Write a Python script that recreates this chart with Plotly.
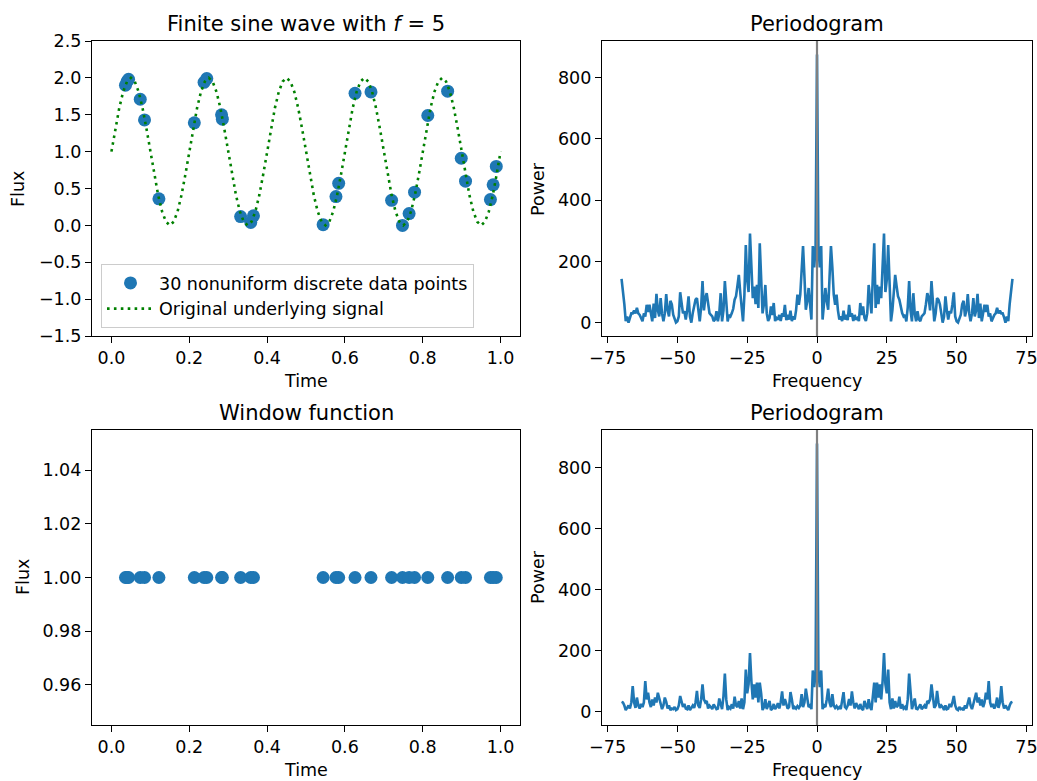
import numpy as np
import plotly.graph_objects as go

# ---------------- data ----------------
times = [0.036, 0.040, 0.044, 0.074, 0.085, 0.122, 0.213, 0.238, 0.245, 0.283,
         0.285, 0.332, 0.358, 0.365, 0.544, 0.577, 0.584, 0.626, 0.667, 0.720,
         0.748, 0.765, 0.779, 0.813, 0.864, 0.899, 0.910, 0.974, 0.981, 0.989]
flux = [1.90, 1.95, 1.98, 1.71, 1.43, 0.36, 1.39, 1.94, 1.99, 1.50,
        1.44, 0.12, 0.04, 0.13, 0.01, 0.39, 0.57, 1.79, 1.81, 0.34,
        0.00, 0.16, 0.45, 1.49, 1.82, 0.91, 0.60, 0.35, 0.55, 0.80]
window_flux = [1.0] * len(times)

signal_time = list(np.linspace(0, 1, 101))
signal_flux = [
    1.00, 1.31, 1.59, 1.81, 1.95, 2.00, 1.95, 1.81, 1.59, 1.31, 1.00, 0.69, 0.41, 0.19, 0.05, 0.00, 0.05, 0.19, 0.41, 0.69,
    1.00, 1.31, 1.59, 1.81, 1.95, 2.00, 1.95, 1.81, 1.59, 1.31, 1.00, 0.69, 0.41, 0.19, 0.05, 0.00, 0.05, 0.19, 0.41, 0.69,
    1.00, 1.31, 1.59, 1.81, 1.95, 2.00, 1.95, 1.81, 1.59, 1.31, 1.00, 0.69, 0.41, 0.19, 0.05, 0.00, 0.05, 0.19, 0.41, 0.69,
    1.00, 1.31, 1.59, 1.81, 1.95, 2.00, 1.95, 1.81, 1.59, 1.31, 1.00, 0.69, 0.41, 0.19, 0.05, 0.00, 0.05, 0.19, 0.41, 0.69,
    1.00, 1.31, 1.59, 1.81, 1.95, 2.00, 1.95, 1.81, 1.59, 1.31, 1.00, 0.69, 0.41, 0.19, 0.05, 0.00, 0.05, 0.19, 0.41, 0.69,
    1.00]

# periodogram, positive frequencies 0..70 step 0.5 (spectrum is symmetric)
freq_pos = [i * 0.5 for i in range(141)]
power_signal_pos = [
    876, 250, 180, 250, 10, 60, 113, 70, 42, 150,
    250, 180, 91, 58, 91, 40, 10, 20, 5, 39,
    10, 25, 8, 58, 20, 30, 5, 25, 10, 15,
    5, 64, 25, 53, 15, 5, 30, 123, 60, 30,
    150, 259, 48, 123, 60, 118, 80, 200, 291, 100,
    140, 253, 90, 4, 40, 100, 156, 120, 86, 75,
    45, 31, 20, 25, 4, 50, 136, 40, 4, 96,
    30, 4, 37, 10, 5, 20, 25, 31, 60, 96,
    80, 40, 136, 50, 4, 30, 80, 75, 60, 31,
    0, 20, 86, 40, 10, 37, 30, 60, 99, 20,
    4, 0, 15, 26, 60, 71, 20, 40, 93, 30,
    4, 30, 80, 20, 40, 94, 15, 62, 4, 30,
    58, 35, 58, 20, 30, 4, 15, 25, 30, 48,
    30, 39, 30, 30, 17, 0, 20, 5, 60, 110,
    143]
power_window_pos = [
    880, 130, 80, 135, 8, 20, 15, 40, 75, 30,
    15, 57, 20, 12, 18, 10, 15, 8, 40, 64,
    15, 10, 20, 41, 20, 66, 30, 10, 28, 15,
    8, 25, 10, 5, 35, 20, 8, 41, 15, 5,
    60, 95, 30, 95, 46, 89, 40, 100, 192, 90,
    60, 138, 30, 8, 43, 10, 35, 15, 20, 49,
    10, 24, 10, 15, 5, 40, 125, 50, 8, 25,
    43, 10, 8, 15, 24, 8, 15, 20, 10, 35,
    30, 40, 89, 40, 12, 20, 68, 30, 12, 20,
    15, 5, 20, 8, 10, 25, 15, 30, 51, 20,
    8, 5, 15, 8, 10, 5, 20, 10, 32, 46,
    20, 8, 25, 40, 62, 30, 46, 20, 40, 15,
    30, 62, 40, 100, 30, 15, 25, 10, 20, 46,
    12, 30, 84, 30, 10, 20, 12, 5, 20, 30,
    32]

freq = [-f for f in freq_pos[:0:-1]] + freq_pos
power_signal = power_signal_pos[:0:-1] + power_signal_pos
power_window = power_window_pos[:0:-1] + power_window_pos

# ---------------- figure ----------------
W, H = 1037, 781
BLUE = "#1f77b4"
FONT = "DejaVu Sans"
FS = 17.5      # tick / label / legend font size (px)
FS_TITLE = 21  # subplot titles

def px_x(a, b):
    return [a / W, b / W]

def px_y(top, bottom):
    return [1 - bottom / H, 1 - top / H]

dom_x_left = px_x(92, 520)
dom_x_right = px_x(602, 1032)
dom_y_top = px_y(41, 336)
dom_y_bot = px_y(430, 725)

fig = go.Figure()

# top-left
fig.add_trace(go.Scatter(x=times, y=flux, mode="markers", name="30 nonuniform discrete data points",
                         marker=dict(color=BLUE, size=13, line=dict(width=0)),
                         xaxis="x", yaxis="y"))
fig.add_trace(go.Scatter(x=signal_time, y=signal_flux, mode="lines", name="Original underlying signal",
                         line=dict(color="green", width=2.6, dash="2.6px,4.3px"),
                         xaxis="x", yaxis="y"))
# top-right
fig.add_trace(go.Scatter(x=freq, y=power_signal, mode="lines", showlegend=False,
                         line=dict(color=BLUE, width=2.6), xaxis="x2", yaxis="y2"))
# bottom-left
fig.add_trace(go.Scatter(x=times, y=window_flux, mode="markers", showlegend=False,
                         marker=dict(color=BLUE, size=13, line=dict(width=0)),
                         xaxis="x3", yaxis="y3"))
# bottom-right
fig.add_trace(go.Scatter(x=freq, y=power_window, mode="lines", showlegend=False,
                         line=dict(color=BLUE, width=2.6), xaxis="x4", yaxis="y4"))

ax_common = dict(showline=True, linecolor="black", linewidth=1.2, mirror=True,
                 ticks="outside", ticklen=6, tickwidth=1.2, tickcolor="black",
                 showgrid=False, zeroline=False, automargin=False,
                 ticklabeloverflow="allow",
                 tickfont=dict(size=FS, color="black", family=FONT))

fig.update_layout(
    width=W, height=H,
    autosize=False,
    margin=dict(l=0, r=0, t=0, b=0, pad=0, autoexpand=False),
    paper_bgcolor="white", plot_bgcolor="white",
    font=dict(family=FONT, color="black", size=FS),
    xaxis=dict(ax_common, domain=dom_x_left, anchor="y", range=[-0.05, 1.05],
               tickmode="array", tickvals=[0, 0.2, 0.4, 0.6, 0.8, 1.0], tickformat=".1f"),
    yaxis=dict(ax_common, domain=dom_y_top, anchor="x", range=[-1.5, 2.5],
               tickmode="linear", tick0=-1.5, dtick=0.5, tickformat=".1f"),
    xaxis2=dict(ax_common, domain=dom_x_right, anchor="y2", range=[-77, 77],
                tickmode="linear", tick0=-75, dtick=25),
    yaxis2=dict(ax_common, domain=dom_y_top, anchor="x2", range=[-43.8, 920],
                tickmode="linear", tick0=0, dtick=200),
    xaxis3=dict(ax_common, domain=dom_x_left, anchor="y3", range=[-0.05, 1.05],
                tickmode="array", tickvals=[0, 0.2, 0.4, 0.6, 0.8, 1.0], tickformat=".1f"),
    yaxis3=dict(ax_common, domain=dom_y_bot, anchor="x3", range=[0.945, 1.055],
                tickmode="array", tickvals=[0.96, 0.98, 1.00, 1.02, 1.04], tickformat=".2f"),
    xaxis4=dict(ax_common, domain=dom_x_right, anchor="y4", range=[-77, 77],
                tickmode="linear", tick0=-75, dtick=25),
    yaxis4=dict(ax_common, domain=dom_y_bot, anchor="x4", range=[-44, 924],
                tickmode="linear", tick0=0, dtick=200),
    legend=dict(x=101 / W, y=1 - 328 / H, xanchor="left", yanchor="bottom",
                bgcolor="rgba(255,255,255,0.8)", bordercolor="#cccccc", borderwidth=1,
                font=dict(size=FS, color="black", family=FONT), tracegroupgap=0,
                itemwidth=47),
    showlegend=True,
)

# vertical gray lines at zero frequency
for xr, yr in (("x2", "y2"), ("x4", "y4")):
    fig.add_shape(type="line", xref=xr, yref=yr + " domain", x0=0, x1=0, y0=0, y1=1,
                  line=dict(color="gray", width=2.2), layer="above")

# titles
titles = [("x", "y", "Finite sine wave with <i>f</i> = 5"),
          ("x2", "y2", "Periodogram"),
          ("x3", "y3", "Window function"),
          ("x4", "y4", "Periodogram")]
for xr, yr, txt in titles:
    fig.add_annotation(text=txt, xref=xr + " domain", yref=yr + " domain", x=0.5, y=1,
                       xanchor="center", yanchor="bottom", yshift=3, showarrow=False,
                       font=dict(size=FS_TITLE, color="black", family=FONT))

# axis labels
def label(text, xp, yp, angle=0):
    fig.add_annotation(text=text, xref="paper", yref="paper", x=xp / W, y=1 - yp / H,
                       xanchor="center", yanchor="middle", showarrow=False, textangle=angle,
                       font=dict(size=FS, color="black", family=FONT))

label("Time", 306, 381)
label("Frequency", 817, 381)
label("Time", 306, 770)
label("Frequency", 817, 770)
label("Flux", 18, 189, -90)
label("Power", 538, 189, -90)
label("Flux", 23, 577, -90)
label("Power", 538, 577, -90)

fig.write_html(
    "out.html",
    config={"displayModeBar": False},
    post_script="document.body.style.margin='0';document.body.style.padding='0';"
                "document.documentElement.style.overflow='hidden';",
)
